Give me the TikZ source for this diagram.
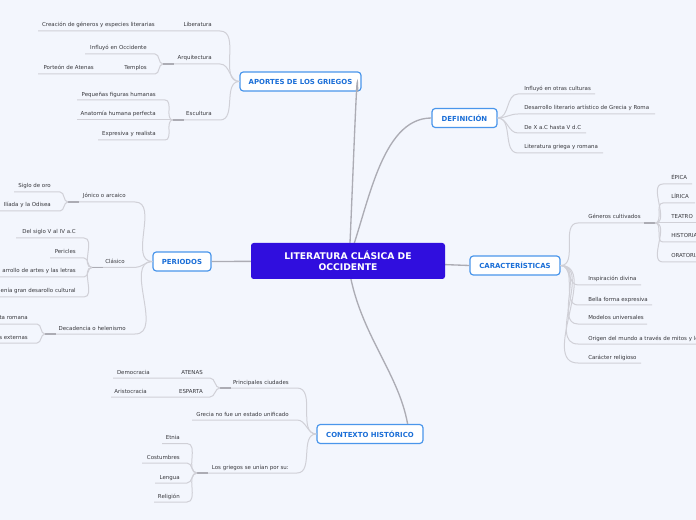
\documentclass[tikz,border=0pt]{standalone}
\usepackage{fontspec}
\setmainfont{DejaVu Sans}
\usetikzlibrary{positioning}

\definecolor{bgcol}{RGB}{243,246,253}
\definecolor{maincol}{RGB}{48,14,222}
\definecolor{boxline}{RGB}{74,150,235}
\definecolor{boxtext}{RGB}{26,110,215}
\definecolor{linecol}{RGB}{208,208,215}
\definecolor{mainline}{RGB}{172,172,180}
\definecolor{leaftext}{RGB}{55,55,60}

\tikzset{
  leaf/.style={inner sep=0pt, font=\fontsize{4.1}{5}\selectfont, text=leaftext},
  topic/.style={draw=boxline, line width=0.9pt, fill=white, rounded corners=2.5pt, text=boxtext,
    font=\fontsize{5.2}{6}\selectfont\bfseries, minimum height=14.25pt, inner sep=1pt},
  central/.style={fill=maincol, rounded corners=2pt, text=white, align=center,
    font=\fontsize{6.9}{8.3}\selectfont\bfseries, minimum width=145.5pt, minimum height=27pt},
  conn/.style={draw=linecol, line width=0.75pt},
  mconn/.style={draw=mainline, line width=1pt},
  jmark/.style={draw=mainline, line width=1.3pt},
}

\begin{document}
\begin{tikzpicture}[x=0.75pt,y=0.75pt,yscale=-1,xscale=1]
    \useasboundingbox (0,0) rectangle (696,520);
    \fill[bgcol] (0,0) rectangle (696,520);

    % Topics
    \node[topic, minimum width=90.75pt] (aportes) at (300.5,81.5) {APORTES DE LOS GRIEGOS};
    \node[topic, minimum width=48.75pt] (def) at (464.5,118) {DEFINICIÓN};
    \node[topic, minimum width=67.5pt] (car) at (515,265.5) {CARACTERÍSTICAS};
    \node[topic, minimum width=79.5pt] (ctx) at (370,434) {CONTEXTO HISTÓRICO};
    \node[topic, minimum width=43.5pt] (per) at (182,261.5) {PERIODOS};

    % Central topic and its connectors
    \coordinate (mc) at (348,261);
    \draw[mconn] (mc) to[out=90,in=-90] ([xshift=-3pt]aportes.south east);
    \draw[mconn] (mc) .. controls (368,210) and (380,118) .. (def.west);
    \draw[mconn] (mc) .. controls (356,330) and (398,370) .. ([xshift=-12pt]ctx.north east);
    \draw[mconn] (mc) -- (per.east);
    \draw[mconn] (mc) -- (car.west);
    \node[central] (main) at (mc) {LITERATURA CLÁSICA DE\\OCCIDENTE};

    %% APORTES DE LOS GRIEGOS
    % Liberatura
    \coordinate (lib-i) at (220,31);
    \coordinate (cre-o) at (38,31);
    \node[leaf, anchor=base east] (lib) at (212,27) {Liberatura};
    \node[leaf, anchor=base east] (cre) at (155,27) {Creación de géneros y especies literarias};
    \draw[conn] (aportes.west) to[out=180,in=0] (lib-i) -- (cre-o);
    % Arquitectura
    \coordinate (arq-i) at (220,64);
    \coordinate (arq-j) at (163,64);
    \node[leaf, anchor=base east] (arq) at (212,60) {Arquitectura};
    \draw[conn] (aportes.west) to[out=180,in=0] (arq-i) -- (arq-j);
    \coordinate (inf-i) at (155,54);
    \coordinate (inf-o) at (85,54);
    \node[leaf, anchor=base east] (inf) at (147,50) {Influyó en Occidente};
    \draw[conn] (arq-j) to[out=180,in=0] (inf-i) -- (inf-o);
    \coordinate (tem-i) at (155,74);
    \coordinate (por-o) at (38,74);
    \node[leaf, anchor=base east] (tem) at (147,70) {Templos};
    \node[leaf, anchor=base east] (por) at (94,70) {Porteón de Atenas};
    \draw[conn] (arq-j) to[out=180,in=0] (tem-i) -- (por-o);
    \draw[jmark] (arq-j) -- ++(11,0);
    % Escultura
    \coordinate (esc-i) at (220,120);
    \coordinate (esc-j) at (173,120);
    \node[leaf, anchor=base east] (esc) at (212,116) {Escultura};
    \draw[conn] (aportes.west) to[out=180,in=0] (esc-i) -- (esc-j);
    \coordinate (peq-i) at (165,100);
    \coordinate (peq-o) at (77,100);
    \node[leaf, anchor=base east] (peq) at (156,96.5) {Pequeñas figuras humanas};
    \draw[conn] (esc-j) to[out=180,in=0] (peq-i) -- (peq-o);
    \coordinate (ana-o) at (77,120);
    \node[leaf, anchor=base east] (ana) at (156,116) {Anatomía humana perfecta};
    \draw[conn] (esc-j) -- (ana-o);
    \coordinate (exp-i) at (165,140);
    \coordinate (exp-o) at (98,140);
    \node[leaf, anchor=base east] (exp) at (156,136) {Expresiva y realista};
    \draw[conn] (esc-j) to[out=180,in=0] (exp-i) -- (exp-o);
    \draw[jmark] (esc-j) -- ++(11,0);

    %% DEFINICIÓN
    \coordinate (d1-i) at (518,94);   \coordinate (d1-o) at (595,94);
    \coordinate (d2-i) at (518,114);  \coordinate (d2-o) at (655,114);
    \coordinate (d3-i) at (518,133);  \coordinate (d3-o) at (586,133);
    \coordinate (d4-i) at (518,153);  \coordinate (d4-o) at (603,153);
    \node[leaf, anchor=base west] (d1) at (524,90.5) {Influyó en otras culturas};
    \node[leaf, anchor=base west] (d2) at (524,110) {Desarrollo literario artístico de Grecia y Roma};
    \node[leaf, anchor=base west] (d3) at (524,129.5) {De X a.C hasta V d.C};
    \node[leaf, anchor=base west] (d4) at (524,149) {Literatura griega y romana};
    \draw[conn] (def.east) to[out=0,in=180] (d1-i) -- (d1-o);
    \draw[conn] (def.east) to[out=0,in=180] (d2-i) -- (d2-o);
    \draw[conn] (def.east) to[out=0,in=180] (d3-i) -- (d3-o);
    \draw[conn] (def.east) to[out=0,in=180] (d4-i) -- (d4-o);

    %% CARACTERÍSTICAS
    % Géneros cultivados
    \coordinate (gen-i) at (578,223);
    \coordinate (gen-j) at (655,223);
    \node[leaf, anchor=base west] (gen) at (588,219) {Géneros cultivados};
    \draw[conn] (car.east) to[out=0,in=180] (gen-i) -- (gen-j);
    \draw[jmark] (gen-j) -- ++(-11,0);
    \coordinate (epi-i) at (663,184);  \coordinate (epi-o) at (692,184);
    \coordinate (lir-i) at (663,203);  \coordinate (lir-o) at (695,203);
    \coordinate (tea-o) at (700,223);
    \coordinate (his-i) at (663,242);  \coordinate (his-o) at (700,242);
    \coordinate (ora-i) at (663,262);  \coordinate (ora-o) at (700,262);
    \node[leaf, anchor=base west] (epi) at (671,180) {ÉPICA};
    \node[leaf, anchor=base west] (lir) at (671,199) {LÍRICA};
    \node[leaf, anchor=base west] (tea) at (671,219) {TEATRO};
    \node[leaf, anchor=base west] (his) at (671,238) {HISTORIA};
    \node[leaf, anchor=base west] (ora) at (671,258) {ORATORIA};
    \draw[conn] (gen-j) to[out=0,in=180] (epi-i) -- (epi-o);
    \draw[conn] (gen-j) to[out=0,in=180] (lir-i) -- (lir-o);
    \draw[conn] (gen-j) -- (tea-o);
    \draw[conn] (gen-j) to[out=0,in=180] (his-i) -- (his-o);
    \draw[conn] (gen-j) to[out=0,in=180] (ora-i) -- (ora-o);
    % other features
    \coordinate (ins-i) at (578,285);  \coordinate (ins-o) at (641,285);
    \coordinate (bel-i) at (578,305);  \coordinate (bel-o) at (652,305);
    \coordinate (mod-i) at (578,324);  \coordinate (mod-o) at (647,324);
    \coordinate (ori-i) at (578,344);  \coordinate (ori-o) at (700,344);
    \coordinate (rel-i) at (578,363);  \coordinate (rel-o) at (641,363);
    \node[leaf, anchor=base west] (ins) at (588,281) {Inspiración divina};
    \node[leaf, anchor=base west] (bel) at (588,301) {Bella forma expresiva};
    \node[leaf, anchor=base west] (mod) at (588,320) {Modelos universales};
    \node[leaf, anchor=base west] (ori) at (588,340) {Origen del mundo a través de mitos y leyendas};
    \node[leaf, anchor=base west] (relig) at (588,359) {Carácter religioso};
    \draw[conn] (car.east) to[out=0,in=180] (ins-i) -- (ins-o);
    \draw[conn] (car.east) to[out=0,in=180] (bel-i) -- (bel-o);
    \draw[conn] (car.east) to[out=0,in=180] (mod-i) -- (mod-o);
    \draw[conn] (car.east) to[out=0,in=180] (ori-i) -- (ori-o);
    \draw[conn] (car.east) to[out=0,in=180] (rel-i) -- (rel-o);

    %% CONTEXTO HISTÓRICO
    % Principales ciudades
    \coordinate (pri-i) at (297,388);
    \coordinate (pri-j) at (220,388);
    \node[leaf, anchor=base east] (pri) at (289,384) {Principales ciudades};
    \draw[conn] (ctx.west) to[out=180,in=0] (pri-i) -- (pri-j);
    \draw[jmark] (pri-j) -- ++(11,0);
    \coordinate (ate-i) at (210,378);  \coordinate (dem-o) at (113,378);
    \coordinate (esp-i) at (210,397);  \coordinate (ari-o) at (111,397);
    \node[leaf, anchor=base east] (ate) at (203,374) {ATENAS};
    \node[leaf, anchor=base east] (dem) at (150,374) {Democracia};
    \node[leaf, anchor=base east] (esp) at (203,393.5) {ESPARTA};
    \node[leaf, anchor=base east] (ari) at (147,393) {Aristocracia};
    \draw[conn] (pri-j) to[out=180,in=0] (ate-i) -- (dem-o);
    \draw[conn] (pri-j) to[out=180,in=0] (esp-i) -- (ari-o);
    % Grecia no fue un estado unificado
    \coordinate (gre-i) at (297,420);  \coordinate (gre-o) at (192,420);
    \node[leaf, anchor=base east] (gre) at (289,416.5) {Grecia no fue un estado unificado};
    \draw[conn] (ctx.west) to[out=180,in=0] (gre-i) -- (gre-o);
    % Los griegos se unían por su:
    \coordinate (uni-i) at (297,473);
    \coordinate (uni-j) at (197,473);
    \node[leaf, anchor=base east] (uni) at (289,469) {Los griegos se unían por su:};
    \draw[conn] (ctx.west) to[out=180,in=0] (uni-i) -- (uni-j);
    \draw[jmark] (uni-j) -- ++(11,0);
    \coordinate (etn-i) at (187,443.5);  \coordinate (etn-o) at (162,443.5);
    \coordinate (cos-i) at (187,463);    \coordinate (cos-o) at (142,463);
    \coordinate (len-i) at (187,483);    \coordinate (len-o) at (155,483);
    \coordinate (rlg-i) at (187,502);    \coordinate (rlg-o) at (154,502);
    \node[leaf, anchor=base east] (etn) at (180,439.5) {Etnia};
    \node[leaf, anchor=base east] (cos) at (180,459) {Costumbres};
    \node[leaf, anchor=base east] (len) at (180,479) {Lengua};
    \node[leaf, anchor=base east] (rlg) at (180,498) {Religión};
    \draw[conn] (uni-j) to[out=180,in=0] (etn-i) -- (etn-o);
    \draw[conn] (uni-j) to[out=180,in=0] (cos-i) -- (cos-o);
    \draw[conn] (uni-j) to[out=180,in=0] (len-i) -- (len-o);
    \draw[conn] (uni-j) to[out=180,in=0] (rlg-i) -- (rlg-o);

    %% PERIODOS
    % Jónico o arcaico
    \coordinate (jon-i) at (135,202);
    \coordinate (jon-j) at (68,202);
    \node[leaf, anchor=base east] (jon) at (126,198) {Jónico o arcaico};
    \draw[conn] (per.west) to[out=180,in=0] (jon-i) -- (jon-j);
    \draw[jmark] (jon-j) -- ++(11,0);
    \coordinate (sig-i) at (60,192);  \coordinate (sig-o) at (14,192);
    \coordinate (ili-i) at (60,211);  \coordinate (ili-o) at (0,211);
    \node[leaf, anchor=base east] (sig) at (51,188) {Siglo de oro};
    \node[leaf, anchor=base east] (ili) at (51,207) {Ilíada y la Odisea};
    \draw[conn] (jon-j) to[out=180,in=0] (sig-i) -- (sig-o);
    \draw[conn] (jon-j) to[out=180,in=0] (ili-i) -- (ili-o);
    % Clásico
    \coordinate (cla-i) at (135,267.5);
    \coordinate (cla-j) at (92,267.5);
    \node[leaf, anchor=base east] (cla) at (125,264) {Clásico};
    \draw[conn] (per.west) to[out=180,in=0] (cla-i) -- (cla-j);
    \draw[jmark] (cla-j) -- ++(11,0);
    \coordinate (dsv-i) at (84,238);  \coordinate (dsv-o) at (16,238);
    \coordinate (prc-i) at (84,258);  \coordinate (prc-o) at (50,258);
    \coordinate (dar-i) at (84,277);  \coordinate (dar-o) at (0,277);
    \coordinate (ate2-i) at (84,297); \coordinate (ate2-o) at (0,297);
    \node[leaf, anchor=base east] (dsv) at (76,234) {Del siglo V al IV a.C};
    \node[leaf, anchor=base east] (prc) at (76,254) {Pericles};
    \node[leaf, anchor=base east] (dar) at (76,273) {arrollo de artes y las letras};
    \node[leaf, anchor=base east] (ate2) at (76,293) {enía gran desarollo cultural};
    \draw[conn] (cla-j) to[out=180,in=0] (dsv-i) -- (dsv-o);
    \draw[conn] (cla-j) to[out=180,in=0] (prc-i) -- (prc-o);
    \draw[conn] (cla-j) to[out=180,in=0] (dar-i) -- (dar-o);
    \draw[conn] (cla-j) to[out=180,in=0] (ate2-i) -- (ate2-o);
    % Decadencia o helenismo
    \coordinate (dec-i) at (135,334);
    \coordinate (dec-j) at (45,334);
    \node[leaf, anchor=base east] (dec) at (126,330) {Decadencia o helenismo};
    \draw[conn] (per.west) to[out=180,in=0] (dec-i) -- (dec-j);
    \draw[jmark] (dec-j) -- ++(11,0);
    \coordinate (rom-i) at (37,324);  \coordinate (rom-o) at (0,324);
    \coordinate (ext-i) at (37,343);  \coordinate (ext-o) at (0,343);
    \node[leaf, anchor=base east] (rom) at (28,320) {ta romana};
    \node[leaf, anchor=base east] (ext) at (28,339.5) {s externas};
    \draw[conn] (dec-j) to[out=180,in=0] (rom-i) -- (rom-o);
    \draw[conn] (dec-j) to[out=180,in=0] (ext-i) -- (ext-o);

\end{tikzpicture}
\end{document}
